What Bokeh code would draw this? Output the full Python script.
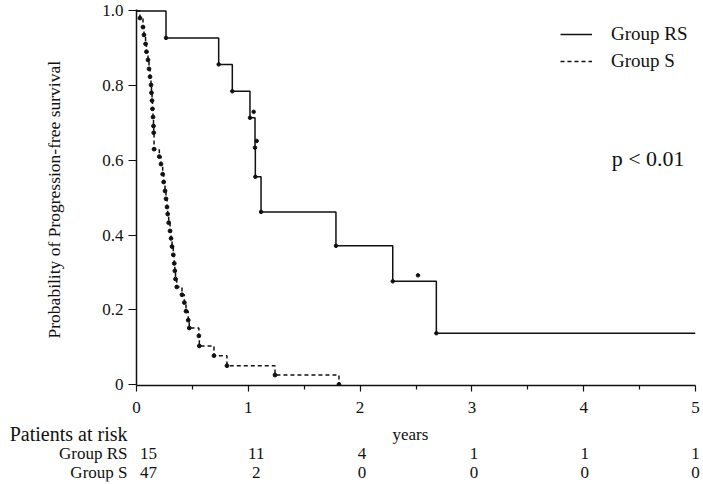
from bokeh.plotting import figure
from bokeh.layouts import column
from bokeh.models import (Range1d, FactorRange, FixedTicker, CustomJSTickFormatter, Legend,
                          LegendItem, Label)
from bokeh.core.properties import value
from bokeh.embed import file_html
from bokeh.resources import INLINE

FONT = "Liberation Serif"

# ---------------- data ----------------
# Group RS: event times (years) and survival after each event
rs_time = [0.264, 0.735, 0.857, 1.015, 1.060, 1.063, 1.114, 1.784, 2.292, 2.682]
rs_surv = [0.928, 0.857, 0.785, 0.714, 0.634, 0.556, 0.462, 0.371, 0.276, 0.137]
rs_cens_time = [1.048, 1.075, 2.518]
rs_cens_surv = [0.730, 0.652, 0.292]
rs_last_followup = 5.0

# Group S: event times (years) and survival after each event
s_time = [0.031, 0.058, 0.067, 0.081, 0.089, 0.103, 0.112, 0.121, 0.130, 0.134,
          0.139, 0.143, 0.148, 0.152, 0.154, 0.157, 0.204, 0.219, 0.234, 0.243,
          0.255, 0.264, 0.273, 0.279, 0.288, 0.300, 0.309, 0.318, 0.329, 0.338,
          0.343, 0.349, 0.360, 0.407, 0.428, 0.443, 0.463, 0.472, 0.558, 0.562,
          0.693, 0.809, 1.239, 1.811]
s_surv = [0.981, 0.957, 0.936, 0.912, 0.891, 0.869, 0.845, 0.824, 0.802, 0.781,
          0.760, 0.738, 0.716, 0.692, 0.674, 0.630, 0.610, 0.590, 0.563, 0.542,
          0.518, 0.497, 0.475, 0.456, 0.433, 0.411, 0.391, 0.369, 0.347, 0.324,
          0.304, 0.282, 0.261, 0.240, 0.219, 0.196, 0.172, 0.151, 0.130, 0.103,
          0.077, 0.050, 0.025, 0.000]

# patients at risk table
risk_years = [0, 1, 2, 3, 4, 5]
risk_rs = [15, 11, 4, 1, 1, 1]
risk_s = [47, 2, 0, 0, 0, 0]
table_rows = ["Group S", "Group RS", "Patients at risk"]   # bottom -> top

x_ticks = [0, 1, 2, 3, 4, 5]
x_minor = [0.5, 1.5, 2.5, 3.5, 4.5]
y_ticks = [0, 0.2, 0.4, 0.6, 0.8, 1.0]

p_text = "p < 0.01"
BLACK = "#111111"

# ---------------- layout constants ----------------
W = 703
LEFT, RIGHT = 136, 8
FRAME_W = W - LEFT - RIGHT
PX_PER_YEAR = FRAME_W / 5.0
risk_label_dx = [12, 8, 2, 2, 1, 0]    # pixel nudges of the at-risk numbers

# ---------------- main figure ----------------
p = figure(width=W, height=423, output_backend="svg", toolbar_location=None,
           x_range=Range1d(0, 5), y_range=Range1d(-0.003, 1.004),
           min_border_left=LEFT, min_border_right=RIGHT, min_border_top=9, min_border_bottom=38)
p.outline_line_color = None
p.grid.visible = False
p.frame_align = False

rs_x = [0] + rs_time + [rs_last_followup]
rs_y = [1.0] + rs_surv + [rs_surv[-1]]
r_rs = p.step(rs_x, rs_y, mode="after", line_color=BLACK, line_width=1.5)
p.scatter(rs_time, rs_surv, size=3.5, color=BLACK)
p.scatter(rs_cens_time, rs_cens_surv, size=3.5, color=BLACK)

s_x = [0] + s_time
s_y = [1.0] + s_surv
r_s = p.step(s_x, s_y, mode="after", line_color=BLACK, line_width=1.5, line_dash="4 3")
p.scatter(s_time, s_surv, size=3.8, color=BLACK)

p.xaxis.ticker = FixedTicker(ticks=x_ticks, minor_ticks=x_minor)
p.yaxis.ticker = FixedTicker(ticks=y_ticks)
p.yaxis.formatter = CustomJSTickFormatter(code="return tick == 0 ? '0' : tick.toFixed(1);")
for ax in (p.xaxis[0], p.yaxis[0]):
    ax.axis_line_color = BLACK
    ax.axis_line_width = 1.5
    ax.major_tick_line_color = BLACK
    ax.major_tick_line_width = 1.2
    ax.minor_tick_line_color = BLACK
    ax.minor_tick_line_width = 1.2
    ax.major_tick_in = 0
    ax.minor_tick_in = 0
    ax.major_label_text_font = FONT
    ax.major_label_text_font_size = "17px"
    ax.major_label_text_color = BLACK
    ax.axis_label_text_font = FONT
    ax.axis_label_text_font_style = "normal"
    ax.axis_label_text_color = BLACK

p.xaxis.major_tick_out = 6
p.xaxis.minor_tick_out = 4
p.xaxis.major_label_standoff = 10

p.yaxis.major_tick_out = 8
p.yaxis.minor_tick_out = 0
p.yaxis.major_label_standoff = 5
p.yaxis.axis_label = "Probability of Progression-free  survival"
p.yaxis.axis_label_text_font_size = "17.5px"
p.yaxis.axis_label_standoff = 35

legend = Legend(items=[LegendItem(label="Group RS", renderers=[r_rs]),
                       LegendItem(label="Group S", renderers=[r_s])],
                location=(424, 312), padding=0, margin=0, spacing=3,
                glyph_width=32, glyph_height=24, label_height=24, label_standoff=19,
                label_text_font=FONT, label_text_font_size="19px", label_text_color=BLACK,
                border_line_alpha=0, background_fill_alpha=0)
p.add_layout(legend)

p.add_layout(Label(x=4.25, y=0.606, text=p_text, text_font=FONT, text_font_size="22px",
                   text_color=BLACK, text_baseline="middle"))

# ---------------- patients-at-risk table ----------------
# frame spans the whole width; x range chosen so that years line up with the main plot
t = figure(width=W, height=61, output_backend="svg", toolbar_location=None,
           x_range=Range1d(-LEFT / PX_PER_YEAR, 5 + RIGHT / PX_PER_YEAR),
           y_range=FactorRange(factors=table_rows),
           x_axis_location=None, y_axis_location=None,
           min_border_left=0, min_border_right=0, min_border_top=1, min_border_bottom=3)
t.outline_line_color = None
t.grid.visible = False
t.frame_align = False

label_x = -9 / PX_PER_YEAR
t.text(x=[label_x], y=[table_rows[2]], text=["Patients at risk"], text_align="right",
       text_baseline="middle", text_font=value(FONT), text_font_size="20px", text_color=BLACK)
t.text(x=[label_x, label_x], y=[table_rows[1], table_rows[0]], text=["Group RS", "Group S"],
       text_align="right", text_baseline="middle", text_font=value(FONT),
       text_font_size="17px", text_color=BLACK)
t.text(x=[2.45], y=[table_rows[2]], text=["years"], text_align="center",
       text_baseline="middle", text_font=value(FONT), text_font_size="17px", text_color=BLACK)
t.text(x=risk_years, y=[table_rows[1]] * len(risk_years), text=[str(v) for v in risk_rs],
       x_offset=risk_label_dx, text_align="center", text_baseline="middle",
       text_font=value(FONT), text_font_size="17px", text_color=BLACK)
t.text(x=risk_years, y=[table_rows[0]] * len(risk_years), text=[str(v) for v in risk_s],
       x_offset=risk_label_dx, text_align="center", text_baseline="middle",
       text_font=value(FONT), text_font_size="17px", text_color=BLACK)

layout = column(p, t, spacing=0)
open("out.html", "w").write(file_html(layout, INLINE))
